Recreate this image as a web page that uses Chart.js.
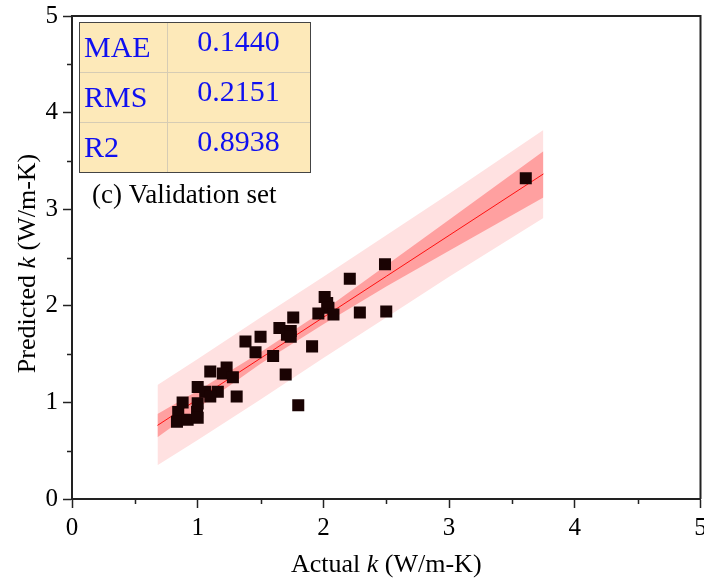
<!doctype html>
<html lang="en">
<head>
  <meta charset="utf-8">
  <title>Validation set</title>
  <script src="https://cdn.jsdelivr.net/npm/chart.js"></script>
  <style>
    html, body { margin: 0; padding: 0; background: #fff; overflow: hidden; }
  </style>
</head>
<body>
  <!-- a bit wider than the window: the last x label is cut at the edge, as in the figure -->
  <canvas id="valChart" width="709" height="582"></canvas>

  <script>
    // measured points (actual vs predicted k)
    const actualK = [3.61, 2.49, 2.21, 2.01, 2.03, 2.04, 1.96, 2.08, 2.29, 2.50,
      1.76, 1.65, 1.74, 1.71, 1.74, 1.91, 1.60, 1.70, 1.80, 1.50, 1.38, 1.46,
      1.10, 1.23, 1.20, 1.28, 1.31, 1.00, 1.06, 1.16, 1.10, 0.88, 1.00, 0.995,
      0.845, 0.835, 0.92, 1.00];
    const predictedK = [3.32, 2.43, 2.28, 2.09, 2.03, 1.98, 1.92, 1.91, 1.93, 1.94,
      1.88, 1.77, 1.74, 1.70, 1.68, 1.58, 1.48, 1.29, 0.97, 1.68, 1.63, 1.52,
      1.32, 1.36, 1.30, 1.26, 1.06, 1.16, 1.11, 1.11, 1.06, 1.00, 0.99, 0.90,
      0.90, 0.80, 0.82, 0.84];

    // fit line and bands, read at a few x positions
    const fitX = [0.68, 1.0, 1.5, 2.0, 2.5, 3.0, 3.75];
    const fitY = [0.762, 1.033, 1.457, 1.881, 2.305, 2.729, 3.365];
    const confUpper = [0.88, 1.12, 1.52, 1.95, 2.42, 2.89, 3.60];
    const confLower = [0.64, 0.94, 1.40, 1.81, 2.20, 2.57, 3.12];
    const predUpper = [1.18, 1.45, 1.88, 2.30, 2.73, 3.16, 3.82];
    const predLower = [0.35, 0.61, 1.03, 1.46, 1.88, 2.30, 2.91];

    const tableRows = ['MAE', 'RMS', 'R2'];
    const tableVals = ['0.1440', '0.2151', '0.8938'];
    const panelLabel = '(c) Validation set';

    const serif = '"Liberation Serif", "DejaVu Serif", serif';
    const pts = (xs, ys) => xs.map((x, i) => ({ x, y: ys[i] }));

    const lineSet = (data, extra) => Object.assign({
      data, showLine: true, pointRadius: 0, borderWidth: 0,
      borderColor: 'rgba(0,0,0,0)', fill: false, tension: 0
    }, extra);

    // frame, minor ticks, axis titles, stats table
    const decor = {
      id: 'decor',
      afterDraw(chart) {
        const { ctx, chartArea: a, scales } = chart;
        ctx.save();
        ctx.strokeStyle = '#222';
        ctx.lineWidth = 2;
        ctx.beginPath();
        ctx.moveTo(a.left, a.top); ctx.lineTo(a.right, a.top); ctx.lineTo(a.right, a.bottom);
        ctx.stroke();

        // minor ticks
        ctx.lineWidth = 1.5;
        ctx.beginPath();
        for (let v = 0.5; v < 5; v += 1) {
          const px = Math.round(scales.x.getPixelForValue(v)) + 0.5;
          ctx.moveTo(px, a.bottom); ctx.lineTo(px, a.bottom + 5);
          const py = Math.round(scales.y.getPixelForValue(v)) + 0.5;
          ctx.moveTo(a.left, py); ctx.lineTo(a.left - 5, py);
        }
        ctx.stroke();

        // table
        const tx = 79, ty = 22, tw = 231, rh = 50, cw = 88;
        ctx.fillStyle = '#fde9b9';
        ctx.fillRect(tx, ty, tw, rh * 3);
        ctx.strokeStyle = '#d6ccb4';
        ctx.lineWidth = 1;
        ctx.beginPath();
        ctx.moveTo(tx + cw + 0.5, ty); ctx.lineTo(tx + cw + 0.5, ty + rh * 3);
        ctx.moveTo(tx, ty + rh + 0.5); ctx.lineTo(tx + tw, ty + rh + 0.5);
        ctx.moveTo(tx, ty + 2 * rh + 0.5); ctx.lineTo(tx + tw, ty + 2 * rh + 0.5);
        ctx.stroke();
        ctx.strokeStyle = '#444';
        ctx.strokeRect(tx + 0.5, ty + 0.5, tw, rh * 3);
        ctx.fillStyle = '#1010f0';
        ctx.font = '30px ' + serif;
        ctx.textBaseline = 'alphabetic';
        tableRows.forEach((r, i) => {
          ctx.textAlign = 'left';
          ctx.fillText(r, tx + 5, ty + rh * i + 35);
          ctx.textAlign = 'center';
          ctx.fillText(tableVals[i], tx + cw + (tw - cw) / 2, ty + rh * i + 29);
        });

        ctx.fillStyle = '#000';
        ctx.textAlign = 'left';
        ctx.font = '27px ' + serif;
        ctx.fillText(panelLabel, 92, 203);

        // axis titles with italic k
        const title = (parts) => {
          let w = 0;
          parts.forEach(p => { ctx.font = p[1] + '26px ' + serif; w += ctx.measureText(p[0]).width; });
          let x = -w / 2;
          parts.forEach(p => {
            ctx.font = p[1] + '26px ' + serif;
            ctx.fillText(p[0], x, 0);
            x += ctx.measureText(p[0]).width;
          });
        };
        ctx.textBaseline = 'middle';
        ctx.save();
        ctx.translate((a.left + a.right) / 2, 565);
        title([['Actual ', ''], ['k', 'italic '], [' (W/m-K)', '']]);
        ctx.restore();
        ctx.save();
        ctx.translate(28, (a.top + a.bottom) / 2 + 6);
        ctx.rotate(-Math.PI / 2);
        title([['Predicted ', ''], ['k', 'italic '], [' (W/m-K)', '']]);
        ctx.restore();
        ctx.restore();
      }
    };

    const axis = (fit) => ({
      type: 'linear', min: 0, max: 5,
      border: { color: '#222', width: 2 },
      grid: { drawOnChartArea: false, drawTicks: true, tickLength: 9, tickColor: '#222', tickWidth: 1.5 },
      ticks: { stepSize: 1, color: '#000', padding: 5, font: { family: serif, size: 25 } },
      afterFit: fit
    });

    new Chart(document.getElementById('valChart').getContext('2d'), {
      type: 'scatter',
      data: {
        datasets: [
          {
            data: pts(actualK, predictedK), pointStyle: 'rect', pointRadius: 8.5,
            backgroundColor: '#1a0303', borderColor: '#1a0303', borderWidth: 0
          },
          lineSet(pts(fitX, fitY), { borderColor: '#ff1010', borderWidth: 1 }),
          lineSet(pts(fitX, confUpper), { fill: { target: 3 }, backgroundColor: '#ffa0a0' }),
          lineSet(pts(fitX, confLower)),
          lineSet(pts(fitX, predUpper), { fill: { target: 5 }, backgroundColor: '#ffe1e1' }),
          lineSet(pts(fitX, predLower))
        ]
      },
      options: {
        responsive: false,
        animation: false,
        layout: { padding: { top: 16, right: 0, left: 0, bottom: 0 } },
        plugins: { legend: { display: false }, tooltip: { enabled: false } },
        scales: {
          x: axis(s => { s.height = 83; s.paddingLeft = 0; s.paddingRight = 0; }),
          y: axis(s => { s.width = 72; s.paddingTop = 0; s.paddingBottom = 0; })
        }
      },
      plugins: [decor]
    });
  </script>
</body>
</html>
